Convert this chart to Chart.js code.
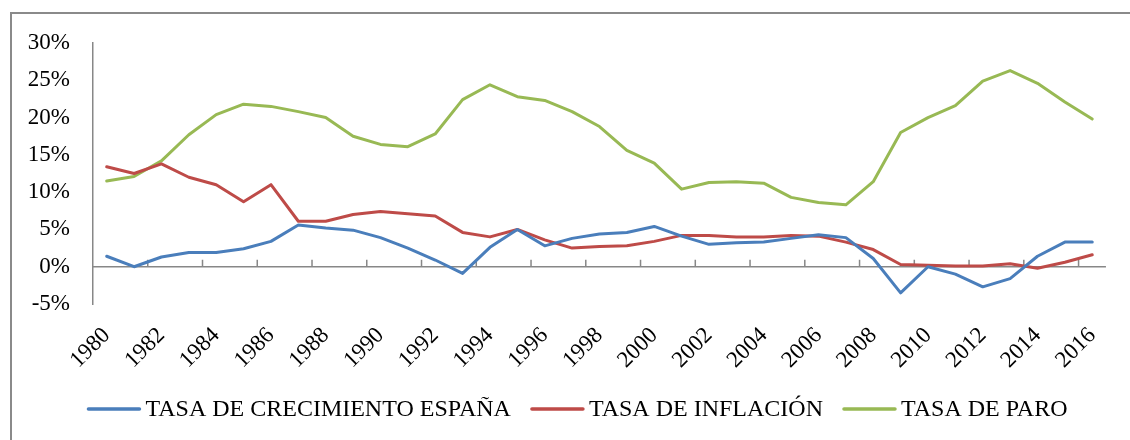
<!DOCTYPE html>
<html>
<head>
<meta charset="utf-8">
<script src="https://cdn.jsdelivr.net/npm/chart.js@4"></script>
<style>
  html, body { margin: 0; padding: 0; background: #fff; }
  #wrap { width: 1130px; height: 440px; position: relative; }
</style>
</head>
<body>
<div id="wrap"><canvas id="c" width="1130" height="440"></canvas></div>
<script>
const years = ['1980','1981','1982','1983','1984','1985','1986','1987','1988','1989',
  '1990','1991','1992','1993','1994','1995','1996','1997','1998','1999',
  '2000','2001','2002','2003','2004','2005','2006','2007','2008','2009',
  '2010','2011','2012','2013','2014','2015','2016'];
const tickLabels = ['1980','1982','1984','1986','1988','1990','1992','1994','1996','1998',
  '2000','2002','2004','2006','2008','2010','2012','2014','2016'];
const yTicks = [-5, 0, 5, 10, 15, 20, 25, 30];

const crecimiento = [1.4, 0.0, 1.3, 1.9, 1.9, 2.4, 3.4, 5.6, 5.2, 4.9,
  3.9, 2.5, 0.9, -0.9, 2.6, 5.0, 2.8, 3.8, 4.4, 4.6,
  5.4, 4.1, 3.0, 3.2, 3.3, 3.8, 4.3, 3.9, 1.1, -3.5,
  0.0, -1.0, -2.7, -1.6, 1.4, 3.3, 3.3];
const inflacion = [13.4, 12.5, 13.8, 12.0, 11.0, 8.7, 11.0, 6.1, 6.1, 7.0,
  7.4, 7.1, 6.8, 4.6, 4.0, 5.0, 3.6, 2.5, 2.7, 2.8,
  3.4, 4.2, 4.2, 4.0, 4.0, 4.2, 4.1, 3.3, 2.3, 0.3,
  0.2, 0.1, 0.1, 0.4, -0.2, 0.6, 1.6];
const paro = [11.5, 12.1, 14.2, 17.7, 20.4, 21.8, 21.5, 20.8, 20.0, 17.5,
  16.4, 16.1, 17.8, 22.4, 24.4, 22.8, 22.3, 20.8, 18.8, 15.6,
  13.9, 10.4, 11.3, 11.4, 11.2, 9.3, 8.6, 8.3, 11.4, 18.0,
  20.0, 21.6, 24.9, 26.3, 24.6, 22.1, 19.8];

const seriesNames = ['TASA DE CRECIMIENTO ESPAÑA', 'TASA DE INFLACIÓN', 'TASA DE PARO'];
const seriesColors = ['#4A7EBB', '#BE4B48', '#98B954'];

const FONT = '"Liberation Serif", "Times New Roman", serif';
const AXIS_COLOR = '#878787';

const decorPlugin = {
  id: 'decor',
  beforeDatasetsDraw(chart) {
    const ctx = chart.ctx;
    const xs = chart.scales.x, ys = chart.scales.y;
    const area = chart.chartArea;
    const y0 = ys.getPixelForValue(0);
    ctx.save();
    ctx.strokeStyle = AXIS_COLOR;
    ctx.lineWidth = 1.5;
    ctx.beginPath();
    ctx.moveTo(area.left, y0);
    ctx.lineTo(area.right, y0);
    for (let k = 2; k < years.length; k += 2) {
      const px = xs.getPixelForValue(k - 0.5);
      ctx.moveTo(px, y0);
      ctx.lineTo(px, y0 - 7);
    }
    ctx.stroke();
    ctx.restore();
  },
  afterDraw(chart) {
    const ctx = chart.ctx;
    ctx.save();
    // frame
    ctx.strokeStyle = '#8a8a8a';
    ctx.lineWidth = 2;
    ctx.beginPath();
    ctx.moveTo(11, 440);
    ctx.lineTo(11, 13);
    ctx.lineTo(1130, 13);
    ctx.stroke();
    // legend
    ctx.font = '24px ' + FONT;
    ctx.textBaseline = 'middle';
    ctx.fillStyle = '#000';
    const lineLen = 53, gapText = 5, gapItem = 20;
    const widths = chart.data.datasets.map(d => ctx.measureText(d.label).width);
    let total = 0;
    widths.forEach((w, i) => { total += lineLen + gapText + w + (i < widths.length - 1 ? gapItem : 0); });
    let x = 577.5 - total / 2;
    const ly = 409;
    chart.data.datasets.forEach((d, i) => {
      ctx.strokeStyle = d.borderColor;
      ctx.lineWidth = 3.5;
      ctx.lineCap = 'round';
      ctx.beginPath();
      ctx.moveTo(x + 1, ly);
      ctx.lineTo(x + lineLen - 1, ly);
      ctx.stroke();
      x += lineLen + gapText;
      ctx.fillText(d.label, x, ly + 1);
      x += widths[i] + gapItem;
    });
    ctx.restore();
  }
};

new Chart(document.getElementById('c'), {
  type: 'line',
  data: {
    labels: years,
    datasets: [
      { label: seriesNames[0], data: crecimiento, borderColor: seriesColors[0], backgroundColor: seriesColors[0] },
      { label: seriesNames[1], data: inflacion, borderColor: seriesColors[1], backgroundColor: seriesColors[1] },
      { label: seriesNames[2], data: paro, borderColor: seriesColors[2], backgroundColor: seriesColors[2] }
    ]
  },
  options: {
    responsive: false,
    animation: false,
    devicePixelRatio: 1,
    layout: { padding: { top: 43, right: 17, left: 0, bottom: 52 } },
    elements: {
      line: { borderWidth: 3, tension: 0, borderCapStyle: 'round', borderJoinStyle: 'round' },
      point: { radius: 0, hoverRadius: 0 }
    },
    plugins: {
      legend: { display: false },
      tooltip: { enabled: false }
    },
    scales: {
      x: {
        type: 'category',
        offset: true,
        grid: { display: false, drawTicks: false },
        border: { display: false },
        afterFit(scale) { scale.height = 84; },
        ticks: {
          autoSkip: false,
          minRotation: 45,
          maxRotation: 45,
          padding: 18,
          color: '#000',
          font: { family: FONT, size: 23 },
          callback(value, index) {
            const lab = years[index];
            return tickLabels.includes(lab) ? lab : '';
          }
        }
      },
      y: {
        min: -5,
        max: 30,
        afterFit(scale) { scale.width = 93; },
        afterBuildTicks(scale) { scale.ticks = yTicks.map(v => ({ value: v })); },
        grid: { display: false, drawTicks: false },
        border: { display: true, color: AXIS_COLOR, width: 1.5 },
        ticks: {
          padding: 23,
          color: '#000',
          font: { family: FONT, size: 23 },
          callback(v) { return v + '%'; }
        }
      }
    }
  },
  plugins: [decorPlugin]
});
</script>
</body>
</html>
